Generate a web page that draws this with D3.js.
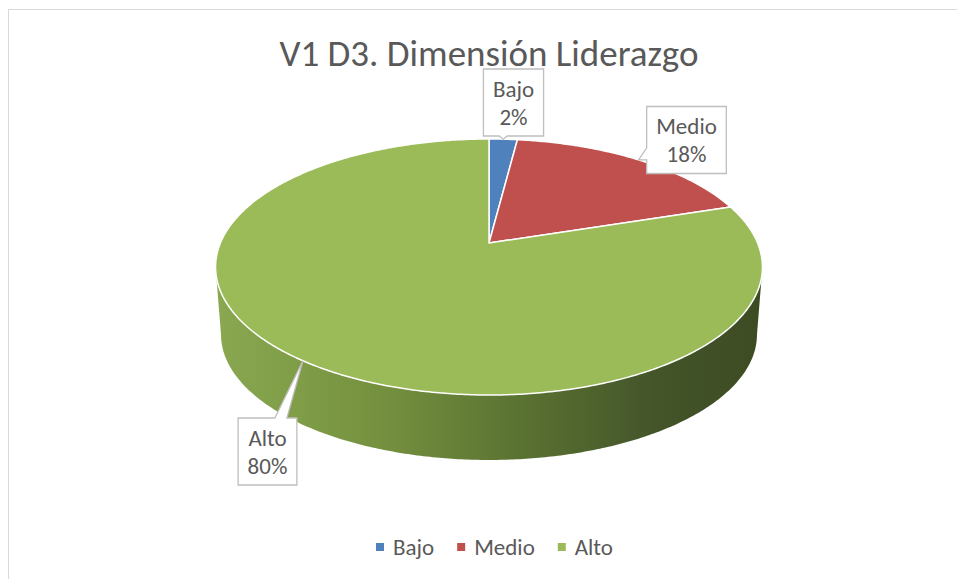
<!DOCTYPE html>
<html>
<head>
<meta charset="utf-8">
<script src="https://cdn.jsdelivr.net/npm/d3@7"></script>
<style>
  html, body { margin: 0; padding: 0; background: #ffffff; }
  svg { display: block; font-family: Calibri, Carlito, Lato, sans-serif; }
</style>
</head>
<body>
<svg id="chart" width="957" height="579"></svg>
<script>
// chart data
const title = "V1 D3. Dimensión Liderazgo";
const categories = ["Bajo", "Medio", "Alto"];
const values = [2, 18, 80];
const colors = ["#4f81bd", "#c0504d", "#9bbb59"];

const svg = d3.select("#chart");
const textColor = "#595959";

// chart area border (right/bottom lie outside the window)
svg.append("rect")
    .attr("x", 8.5).attr("y", 9.5)
    .attr("width", 1000).attr("height", 1000)
    .attr("fill", "#fff")
    .attr("stroke", "#d9d9d9");

// title
svg.append("text")
    .attr("x", 489).attr("y", 66)
    .attr("text-anchor", "middle")
    .attr("fill", textColor)
    .style("font-size", "37px")
    .text(title);

// 3d pie projection: theta clockwise from the back (top of screen)
const cx = 489, cy = 243;
const rx = 268.6, ry = 123.5, persp = 0.1875;
const depth = 68, shrink = 0.98;

function project(theta, bottom) {
    const u = Math.sin(theta), v = -Math.cos(theta);
    const w = 1 - persp * v;
    const s = bottom ? shrink : 1;
    return [cx + s * rx * u / w, cy + s * ry * v / w + (bottom ? depth : 0)];
}

function arcPoints(a0, a1, bottom) {
    const n = Math.max(2, Math.ceil(Math.abs(a1 - a0) / 0.01));
    return d3.range(n + 1).map(i => project(a0 + (a1 - a0) * i / n, bottom));
}

const pie = d3.pie().sort(null).value(d => d.value);
const slices = pie(categories.map((c, i) => ({ name: c, value: values[i], color: colors[i] })));

// side gradient
const defs = svg.append("defs");
const grad = defs.append("linearGradient")
    .attr("id", "sideGrad")
    .attr("gradientUnits", "userSpaceOnUse")
    .attr("x1", cx - rx * 1.02).attr("x2", cx + rx * 1.02)
    .attr("y1", 0).attr("y2", 0);
[[0, "#8aa850"], [0.3, "#75913f"], [0.55, "#5b7332"], [0.8, "#44552a"], [1, "#3d4b22"]]
    .forEach(s => grad.append("stop").attr("offset", s[0]).attr("stop-color", s[1]));

// visible side: between the silhouette points of the front half
const line = d3.line();
const thR = Math.acos(-persp), thL = 2 * Math.PI - thR;
const sidePts = arcPoints(thR, thL, false).concat(arcPoints(thL, thR, true));
svg.append("path")
    .attr("d", line(sidePts) + "Z")
    .attr("fill", "url(#sideGrad)");

// top faces
svg.selectAll(".slice")
    .data(slices)
    .enter()
    .append("path")
    .attr("class", "slice")
    .attr("d", d => line([[cx, cy]].concat(arcPoints(d.startAngle, d.endAngle, false))) + "Z")
    .attr("fill", d => d.data.color)
    .attr("stroke", "#fff")
    .attr("stroke-width", 1.5)
    .attr("stroke-linejoin", "round");

// data label callouts
const labelBoxes = [
    { cx: 513.5, cy: 102.5, side: "bottom" },
    { cx: 686.5, cy: 140, side: "left" },
    { cx: 267.5, cy: 451.5, side: "top" }
];
const fontSize = 23;

slices.forEach((d, i) => {
    const mid = (d.startAngle + d.endAngle) / 2;
    const tip = project(mid, false);
    const lb = labelBoxes[i];
    const g = svg.append("g");
    const t1 = g.append("text").attr("x", lb.cx).attr("y", lb.cy - 6)
        .attr("text-anchor", "middle").attr("fill", textColor)
        .style("font-size", fontSize + "px").text(d.data.name);
    const t2 = g.append("text").attr("x", lb.cx).attr("y", lb.cy + 22)
        .attr("text-anchor", "middle").attr("fill", textColor)
        .style("font-size", fontSize + "px").text(Math.round(d.data.value) + "%");
    const tw = Math.max(t1.node().getComputedTextLength(), t2.node().getComputedTextLength());
    const w = tw + 19, h = 67;
    const x0 = lb.cx - w / 2, x1 = lb.cx + w / 2, y0 = lb.cy - h / 2, y1 = lb.cy + h / 2;
    let p;
    if (lb.side === "bottom") {
        const c = Math.max(x0 + 12, Math.min(x1 - 12, tip[0]));
        p = `M${x0},${y0}H${x1}V${y1}H${c + 4}L${tip[0]},${tip[1]}L${c - 4},${y1}H${x0}Z`;
    } else if (lb.side === "left") {
        const c = Math.max(y0 + 12, Math.min(y1 - 12, tip[1])) - 6;
        p = `M${x0},${y0}H${x1}V${y1}H${x0}V${c + 6}L${tip[0]},${tip[1]}L${x0},${c - 6}Z`;
    } else {
        const c = Math.max(x0 + 12, Math.min(x1 - 12, tip[0])) - 4;
        p = `M${x0},${y0}H${c - 6}L${tip[0]},${tip[1]}L${c + 6},${y0}H${x1}V${y1}H${x0}Z`;
    }
    g.insert("path", "text")
        .attr("d", p)
        .attr("fill", "#fff")
        .attr("stroke", "#bfbfbf")
        .attr("stroke-width", 1.3);
});

// legend
const legend = svg.append("g");
let lx = 376;
categories.forEach((c, i) => {
    legend.append("rect")
        .attr("x", lx).attr("y", 543)
        .attr("width", 8).attr("height", 8)
        .attr("fill", colors[i]);
    const t = legend.append("text")
        .attr("x", lx + 17).attr("y", 555)
        .attr("fill", textColor)
        .style("font-size", fontSize + "px")
        .text(c);
    lx += 17 + t.node().getComputedTextLength() + 23;
});
</script>
</body>
</html>
